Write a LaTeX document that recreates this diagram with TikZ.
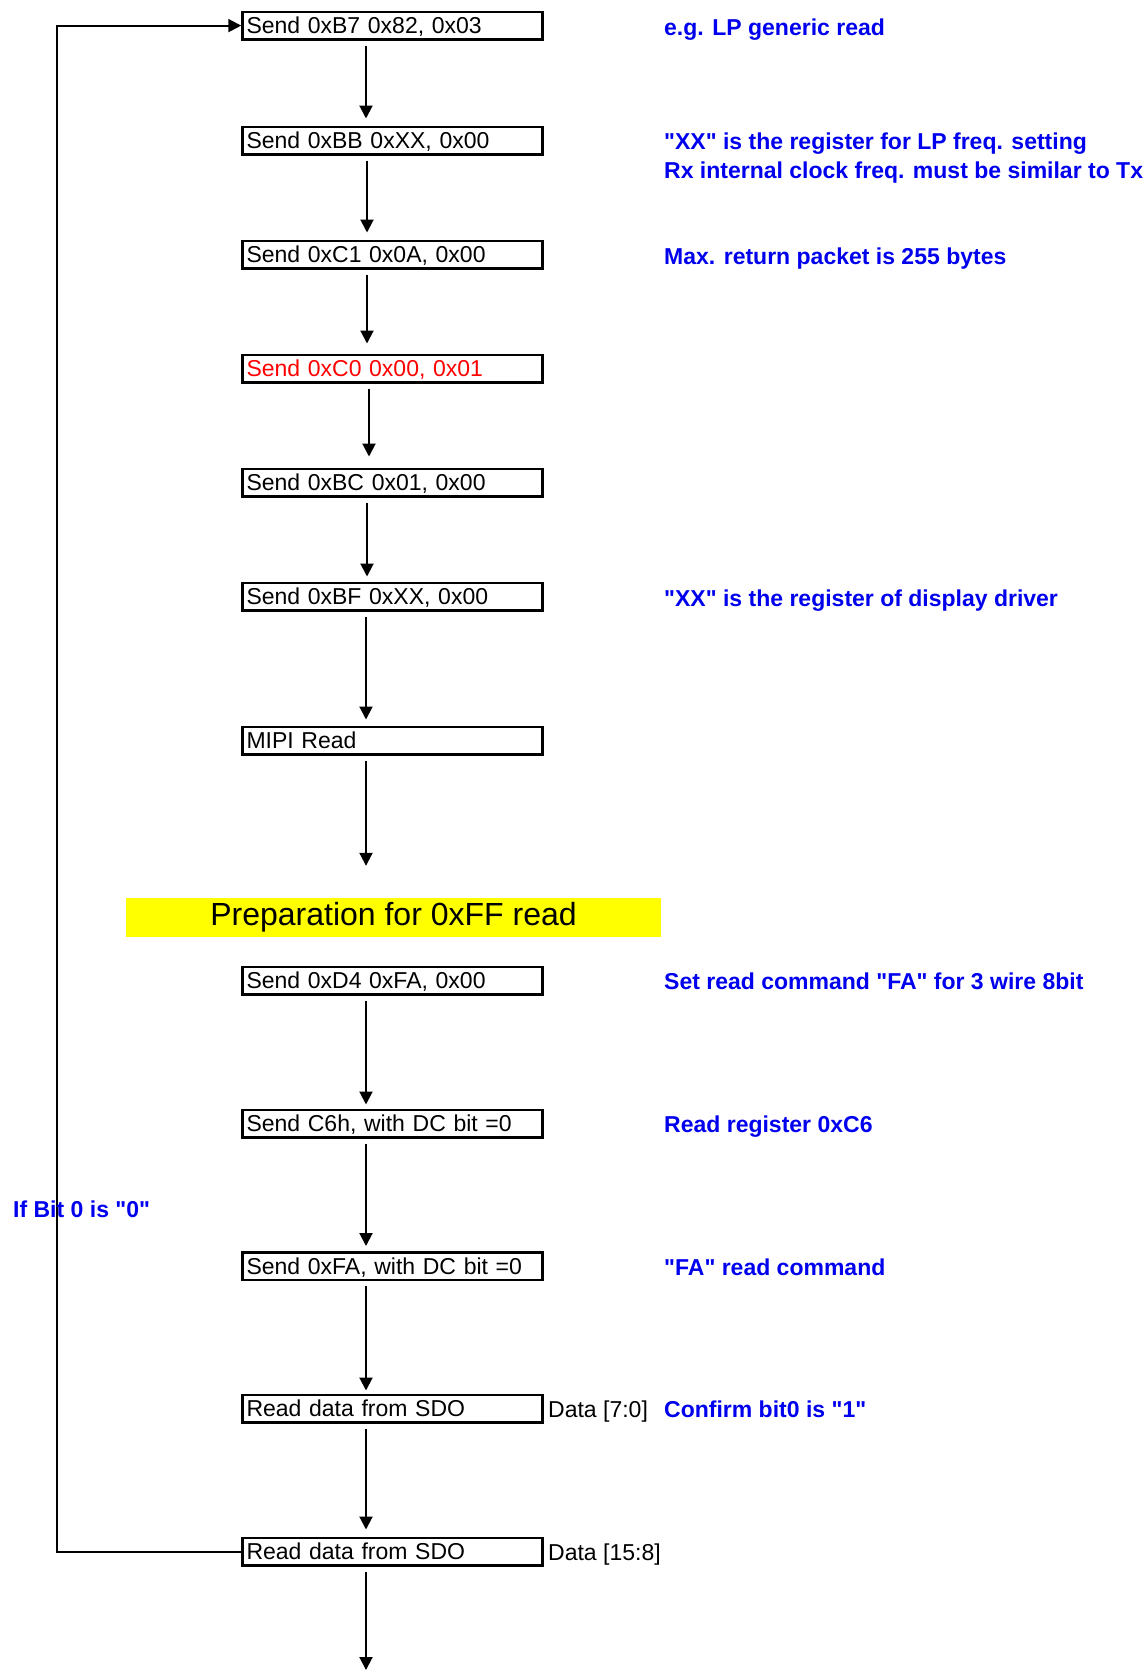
\documentclass[tikz,border=0pt]{standalone}
\usepackage{fontspec}
\setmainfont{Liberation Sans}
\newfontfamily\arialf{Liberation Sans}
\usetikzlibrary{arrows.meta}
\definecolor{lblue}{RGB}{0,0,238}
\definecolor{yel}{RGB}{255,255,0}
\begin{document}
\begin{tikzpicture}[x=1pt,y=-1pt,
  stepbox/.style={draw, line width=2.5pt, minimum width=300pt, minimum height=27.5pt,
    text width=292pt, align=left, inner xsep=4pt, inner ysep=0pt,
    text height=16.5pt, text depth=0pt, font=\arialf\fontsize{23}{27}\selectfont},
  note/.style={anchor=west, inner sep=0pt, text height=16.5pt, text depth=0pt,
    font=\arialf\fontsize{23}{27}\selectfont\bfseries, text=lblue},
  datalbl/.style={anchor=west, inner sep=0pt, text height=16.5pt, text depth=0pt,
    font=\arialf\fontsize{23}{27}\selectfont},
  arr/.style={line width=2pt, -{Triangle[length=13pt,width=13pt]}, shorten <=5pt}]
\useasboundingbox (0,0) rectangle (1145,1671);

% boxes
\node[stepbox] (b1) at (392.5,25.6) {Send 0xB7 0x82, 0x03};
\node[stepbox] (b2) at (392.5,140.5) {Send 0xBB 0xXX, 0x00};
\node[stepbox] (b3) at (392.5,254.5) {Send 0xC1 0x0A, 0x00};
\node[stepbox, text=red] (b4) at (392.5,368.5) {Send 0xC0 0x00, 0x01};
\node[stepbox] (b5) at (392.5,482.5) {Send 0xBC 0x01, 0x00};
\node[stepbox] (b6) at (392.5,596.5) {Send 0xBF 0xXX, 0x00};
\node[stepbox] (b7) at (392.5,740.5) {MIPI Read};
\node[fill=yel, minimum width=535pt, minimum height=39pt, inner sep=0pt,
      font=\arialf\fontsize{32}{38}\selectfont] (prep) at (393.5,917.5) {Preparation for 0xFF read};
\node[stepbox] (b8) at (392.5,980.5) {Send 0xD4 0xFA, 0x00};
\node[stepbox] (b9) at (392.5,1123.5) {Send C6h, with DC bit =0};
\node[stepbox] (b10) at (392.5,1266) {Send 0xFA, with DC bit =0};
\node[stepbox] (b11) at (392.5,1408.5) {Read data from SDO};
\node[stepbox] (b12) at (392.5,1551.5) {Read data from SDO};

% arrow columns
\coordinate (XA) at (366,0);
\coordinate (XB) at (367,0);
\coordinate (XC) at (369,0);
\coordinate (L) at (56.5,0);
\coordinate (endA) at (366,1670);

\draw[arr, shorten >=7pt] (b1.south -| XA) -- (b2.north -| XA);
\draw[arr, shorten >=7pt] (b2.south -| XB) -- (b3.north -| XB);
\draw[arr, shorten >=10pt] (b3.south -| XB) -- (b4.north -| XB);
\draw[arr, shorten >=11pt] (b4.south -| XC) -- (b5.north -| XC);
\draw[arr, shorten >=5pt] (b5.south -| XB) -- (b6.north -| XB);
\draw[arr, shorten >=6pt] (b6.south -| XA) -- (b7.north -| XA);
\draw[arr, shorten >=32pt] (b7.south -| XA) -- (prep.north -| XA);
\draw[arr, shorten >=4pt] (b8.south -| XA) -- (b9.north -| XA);
\draw[arr, shorten >=5pt] (b9.south -| XA) -- (b10.north -| XA);
\draw[arr, shorten >=3pt] (b10.south -| XA) -- (b11.north -| XA);
\draw[arr, shorten >=7pt] (b11.south -| XA) -- (b12.north -| XA);
\draw[arr] (b12.south -| XA) -- (endA);

% loop back
\draw[arr, shorten <=0pt] (b12.west) -- (b12.west -| L) |- (b1.west);

% notes
\node[note] (n1) at (664,27) {e.g. LP generic read};
\node[note] (n2) at (664,141) {"XX" is the register for LP freq. setting};
\node[note] (n2b) at (664,170) {Rx internal clock freq. must be similar to Tx};
\node[note] (n3) at (664,256) {Max. return packet is 255 bytes};
\node[note] (n6) at (664,598) {"XX" is the register of display driver};
\node[note] (n8) at (664,981) {Set read command "FA" for 3 wire 8bit};
\node[note] (n9) at (664,1124) {Read register 0xC6};
\node[note] (n10) at (664,1267) {"FA" read command};
\node[note] (n11) at (664,1409) {Confirm bit0 is "1"};
\node[note] (nif) at (13,1209) {If Bit 0 is "0"};
\node[datalbl] (d1) at (548,1409) {Data [7:0]};
\node[datalbl] (d2) at (548,1552) {Data [15:8]};
\end{tikzpicture}
\end{document}
